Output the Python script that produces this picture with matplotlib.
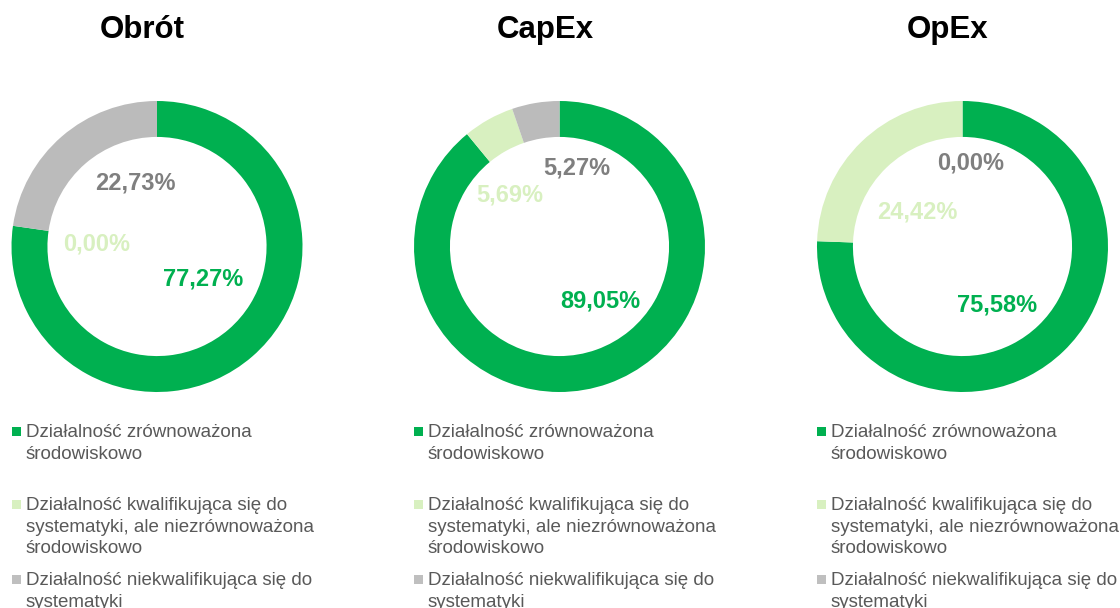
#!/usr/bin/env python3

import matplotlib
matplotlib.use('Agg')
import matplotlib.pyplot as plt
from matplotlib.patches import Rectangle

plt.rcParams['font.family'] = ['Liberation Sans', 'DejaVu Sans']

titles = ['Obrót', 'CapEx', 'OpEx']
sustainable = [77.27, 89.05, 75.58]
eligible    = [0.00, 5.69, 24.42]
not_eligible = [22.73, 5.27, 0.00]

legend_labels = ['Działalność zrównoważona\nśrodowiskowo',
                 'Działalność kwalifikująca się do\nsystematyki, ale niezrównoważona\nśrodowiskowo',
                 'Działalność niekwalifikująca się do\nsystematyki']

colors = ['#00B050', '#D8F0C0', '#BBBBBB']
label_colors = ['#00B050', '#D8F0C0', '#7F7F7F']

W, H = 1120, 608
centers_x = [157, 559.5, 962.5]
cy = 246.5
R = 145.5

# label positions in pixels (sustainable, eligible, not eligible)
label_pos = [[(203, 279), (97, 244), (135, 183)],
             [(600, 301), (510, 195), (577, 168)],
             [(997, 305), (917, 212), (971, 163)]]
title_x = [142, 545, 948]
legend_x = [12, 414, 817]
legend_base = [437, 510, 585]
line_h = 21.7

fig = plt.figure(figsize=(W / 100, H / 100), dpi=100)

for i, name in enumerate(titles):
    cx = centers_x[i]
    ax = fig.add_axes([(cx - R) / W, (H - cy - R) / H, 2 * R / W, 2 * R / H])
    vals = [sustainable[i], eligible[i], not_eligible[i]]
    ax.pie(vals, colors=colors, startangle=90, counterclock=False, radius=1,
           wedgeprops=dict(width=0.247, linewidth=0))
    ax.set_xlim(-1, 1)
    ax.set_ylim(-1, 1)
    ax.set_aspect('equal')
    ax.axis('off')

    for k, v in enumerate(vals):
        px, py = label_pos[i][k]
        txt = ('%.2f%%' % v).replace('.', ',')
        ax.text((px - cx) / R, (cy - py) / R, txt, color=label_colors[k],
                fontsize=17, fontweight='bold', ha='center', va='center')

    fig.text(title_x[i] / W, 1 - 30 / H, name, fontsize=22.5, fontweight='bold',
             ha='center', va='center', color='black')

    for k, lab in enumerate(legend_labels):
        base = legend_base[k]
        fig.patches.append(Rectangle((legend_x[i] / W, 1 - (base - 1) / H), 9 / W, 9 / H,
                                     transform=fig.transFigure, color=colors[k] if k < 2 else '#BFBFBF',
                                     linewidth=0))
        for j, line in enumerate(lab.split('\n')):
            fig.text((legend_x[i] + 14) / W, 1 - (base + j * line_h) / H, line, fontsize=13.5,
                     color='#595959', ha='left', va='baseline')

plt.savefig('out.png', dpi=100)
